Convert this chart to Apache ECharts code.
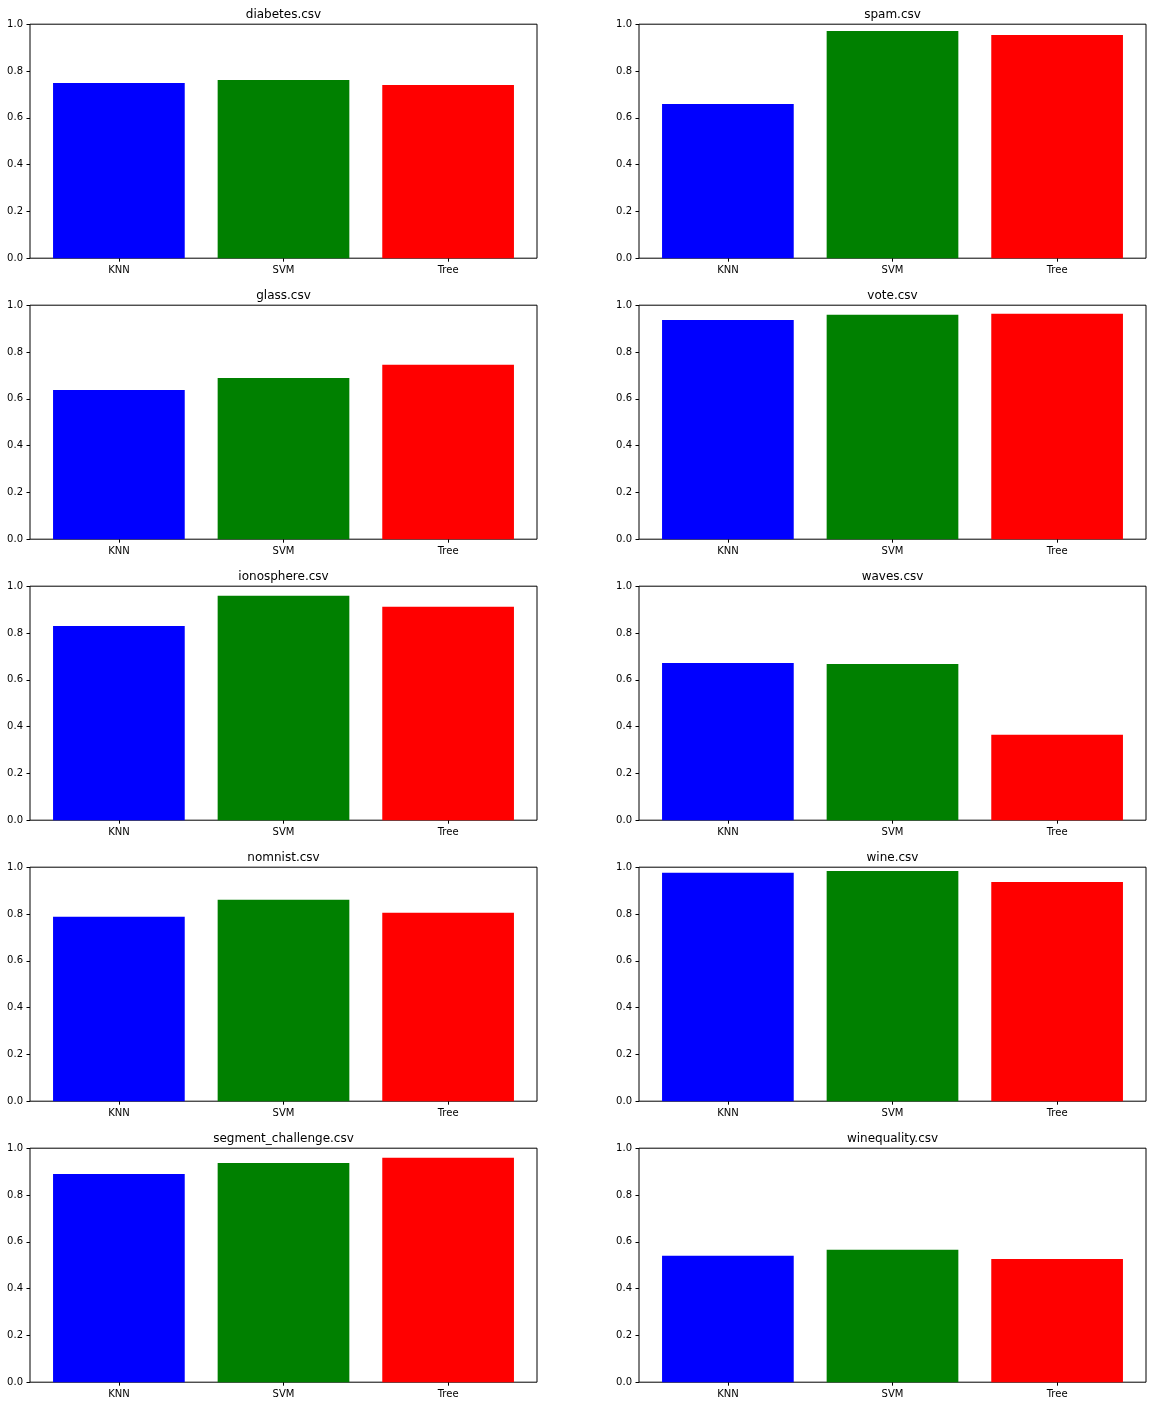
<!DOCTYPE html>
<html>
<head>
<meta charset="utf-8">
<script src="https://cdn.jsdelivr.net/npm/echarts@6/dist/echarts.min.js"></script>
<style>html,body{margin:0;padding:0;background:#fff}#c{width:1153px;height:1406px}#err{position:absolute;left:0;top:0;font:12px monospace;white-space:pre;color:#c00}</style>
</head>
<body>
<div id="c"></div>
<div id="err"></div>
<script>
var categories = ['KNN', 'SVM', 'Tree'];
var datasets = ['diabetes.csv', 'spam.csv', 'glass.csv', 'vote.csv', 'ionosphere.csv', 'waves.csv', 'nomnist.csv', 'wine.csv', 'segment_challenge.csv', 'winequality.csv'];
var knnScores  = [0.749, 0.659, 0.638, 0.937, 0.830, 0.672, 0.788, 0.976, 0.890, 0.540];
var svmScores  = [0.762, 0.971, 0.689, 0.959, 0.959, 0.668, 0.861, 0.984, 0.937, 0.566];
var treeScores = [0.740, 0.954, 0.745, 0.963, 0.912, 0.365, 0.805, 0.937, 0.959, 0.527];
var yTicks = [0, 0.2, 0.4, 0.6, 0.8, 1.0];
var barColors = ['#0000ff', '#008000', '#ff0000'];

(function () {
try {
  var font = 'DejaVu Sans';
  var colLeft = [30, 639];
  var plotW = 507, plotH = 234, rowTop0 = 24.2, rowStep = 281;
  var unit = plotW / 3.08;

  var grids = [], xAxes = [], yAxes = [], series = [], titles = [];
  for (var i = 0; i < datasets.length; i++) {
    var col = i % 2, row = Math.floor(i / 2);
    var gx = colLeft[col], gy = rowTop0 + row * rowStep;
    var fi = 2 * i, bi = 2 * i + 1;
    // frame grid (box + y axis)
    grids.push({left: gx, top: gy, width: plotW, height: plotH, show: true,
      borderColor: '#000', borderWidth: 1, backgroundColor: 'rgba(0,0,0,0)'});
    xAxes.push({type: 'value', gridIndex: fi, min: 0, max: 1, show: false});
    yAxes.push({type: 'value', gridIndex: fi, min: yTicks[0], max: yTicks[yTicks.length - 1], interval: 0.2,
      axisLine: {show: false}, splitLine: {show: false},
      axisTick: {show: true, length: 3.5, lineStyle: {color: '#000', width: 1}},
      axisLabel: {margin: 7, color: '#000', fontSize: 10, fontFamily: font,
        formatter: function (v) { return v.toFixed(1); }}
    });
    // bar grid (inset so bars match matplotlib margins)
    grids.push({left: gx + 0.04 * unit, top: gy, width: 3 * unit, height: plotH, show: false});
    xAxes.push({type: 'category', gridIndex: bi, data: categories, boundaryGap: true,
      axisLine: {show: false}, splitLine: {show: false},
      axisTick: {show: true, alignWithLabel: true, length: 3.5, lineStyle: {color: '#000', width: 1}},
      axisLabel: {margin: 7, color: '#000', fontSize: 10, fontFamily: font}
    });
    yAxes.push({type: 'value', gridIndex: bi, min: 0, max: 1, show: false});
    var vals = [knnScores[i], svmScores[i], treeScores[i]];
    series.push({type: 'bar', xAxisIndex: bi, yAxisIndex: bi, barWidth: '80%',
      data: vals.map(function (v, k) { return {value: v, itemStyle: {color: barColors[k]}}; })
    });
    titles.push({text: datasets[i], left: gx + plotW / 2, top: gy - 15, textAlign: 'center', padding: 0,
      textStyle: {fontSize: 12, fontWeight: 'normal', color: '#000', fontFamily: font}});
  }

  var chart = echarts.init(document.getElementById('c'), null, {renderer: 'canvas'});
  chart.setOption({
    backgroundColor: '#fff',
    animation: false,
    title: titles,
    grid: grids,
    xAxis: xAxes,
    yAxis: yAxes,
    series: series
  });
} catch (e) {
  document.getElementById('err').textContent = String(e) + '\n' + (e.stack || '');
}
})();
</script>
</body>
</html>
